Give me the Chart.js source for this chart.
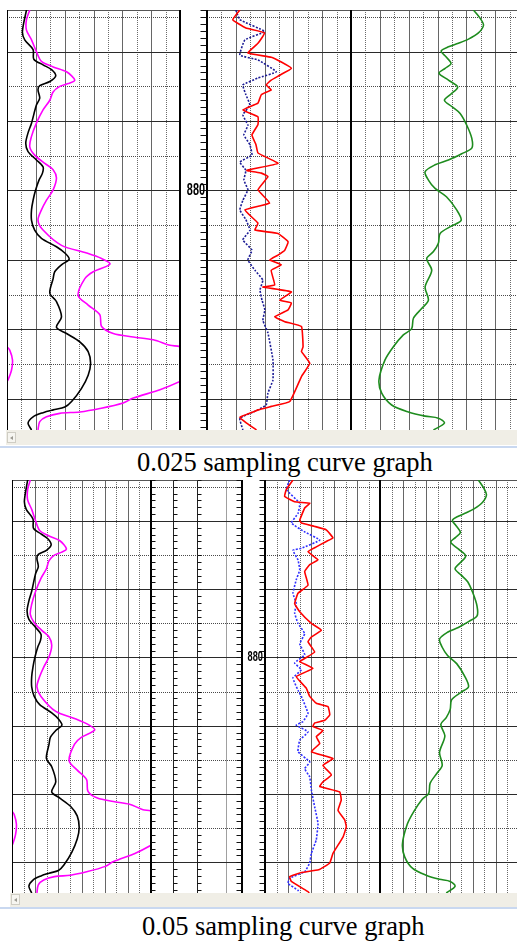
<!DOCTYPE html>
<html><head><meta charset="utf-8">
<script src="https://cdn.jsdelivr.net/npm/chart.js@4/dist/chart.umd.min.js"></script>
<style>
html,body{margin:0;padding:0;background:#fff;}
body{width:517px;height:941px;position:relative;overflow:hidden;}
.trk{position:absolute;}
.trk canvas{display:block;}
.strip{position:absolute;background:#f0eee6;}
.btn{position:absolute;width:9px;height:11px;border:1px solid #cfcdc4;background:#f6f5f0;box-sizing:border-box;}
.btn:after{content:"";position:absolute;left:2px;top:3px;border-style:solid;border-width:2.5px 3px 2.5px 0;border-color:transparent #9a9890 transparent transparent;}
.blue{position:absolute;background:#c9d8f0;}
.cap{position:absolute;font-family:"Liberation Serif","Times New Roman",serif;font-size:26.5px;line-height:26.5px;white-space:nowrap;color:#000;}
</style></head><body>
<div class="strip" style="left:6px;top:430px;width:511px;height:15px"></div>
<div class="btn" style="left:7px;top:432px"></div>
<div class="blue" style="left:0;top:446px;width:517px;height:2px"></div>
<div class="cap" style="left:137px;top:449px">0.025 sampling curve graph</div>
<div class="strip" style="left:10px;top:893px;width:507px;height:14px"></div>
<div class="btn" style="left:11px;top:894px"></div>
<div class="blue" style="left:0;top:907px;width:517px;height:2px"></div>
<div class="cap" style="left:142px;top:913px">0.05 sampling curve graph</div>
<script>
// ---------------- data ----------------
const depthMin = 877.4, depthMax = 883.45;
const depthLabels = [880];
const blankTrackLines = [0, 24.5, 50.2, 82.4, 100];

// track 1 (both panels)
const blackDepth = [877.40,877.71,877.83,877.97,878.11,878.19,878.26,878.35,878.43,878.49,878.55,878.67,878.77,879.03,879.17,879.32,879.44,879.56,879.66,879.75,879.85,879.99,880.14,880.28,880.43,880.57,880.69,880.81,880.90,880.99,881.07,881.17,881.27,881.48,881.60,881.82,881.97,882.06,882.18,882.32,882.49,882.66,882.85,883.04,883.12,883.16,883.20,883.26,883.35,883.45];
const blackValue = [13.5,10.7,12.3,18.1,18.6,25.0,30.9,33.8,29.7,22.7,21.5,22.7,20.4,17.0,14.6,13.0,14.6,20.4,25.0,24.6,22.2,19.9,18.1,17.0,17.0,19.2,23.9,34.3,40.1,43.1,37.8,33.1,32.0,29.7,34.3,37.8,34.3,41.3,50.5,56.3,58.0,56.3,51.7,44.8,40.1,32.0,25.0,18.1,14.6,17.0];

const magentaDepth = [877.40,877.54,877.69,877.83,878.00,878.14,878.22,878.29,878.41,878.46,878.50,878.58,878.70,878.84,879.03,879.22,879.37,879.49,879.61,879.70,879.82,879.99,880.14,880.28,880.43,880.57,880.79,880.90,880.98,881.06,881.17,881.27,881.51,881.65,881.79,881.96,882.06,882.11,882.15,882.23,882.25,882.30,882.44,882.59,882.73,882.75,882.87,882.99,883.06,883.14,883.19,883.21,883.26,883.33,883.45];
const magentaValue = [15.8,13.5,13.5,17.0,20.4,23.9,32.0,41.3,47.0,42.4,36.6,32.0,29.7,25.0,20.4,17.0,15.8,19.2,26.2,32.0,34.3,32.0,27.4,23.9,21.5,25.0,37.8,55.2,65.6,71.4,59.8,54.0,49.3,56.3,64.4,65.6,73.7,87.6,101.5,113.1,120.0,121.9,123.8,123.1,120.7,120.0,106.1,87.6,80.6,64.4,50.5,36.6,27.4,22.7,21.5];

// track 2, 0.025 sampling
const redDepthTop = [877.40,877.54,877.66,877.73,877.88,878.02,878.08,878.15,878.24,878.34,878.41,878.48,878.55,878.62,878.74,878.84,878.94,879.05,879.20,879.34,879.46,879.61,879.71,879.75,879.80,879.99,880.18,880.28,880.47,880.57,880.62,880.74,880.86,880.93,881.00,881.07,881.15,881.36,881.39,881.46,881.58,881.62,881.72,881.82,881.89,881.96,882.25,882.32,882.49,882.68,883.04,883.11,883.16,883.19,883.27,883.35,883.45];
const redValueTop = [22.8,17.9,27.0,40.0,35.4,28.4,44.6,51.6,58.6,50.5,44.6,41.1,44.6,37.7,35.4,24.9,35.4,35.4,31.2,34.0,35.4,49.3,27.7,37.7,42.3,35.4,43.5,26.3,35.4,33.3,49.3,56.3,54.0,49.3,43.5,51.6,44.6,47.0,38.8,58.6,50.5,58.6,56.3,47.0,54.0,65.6,66.7,65.6,71.4,65.6,57.5,44.6,35.4,32.1,22.8,27.5,34.4];
const blueDepthTop = [877.40,877.54,877.71,877.83,878.05,878.12,878.29,878.38,878.48,878.62,878.77,878.91,879.06,879.20,879.34,879.49,879.59,879.71,879.85,879.99,880.14,880.28,880.42,880.57,880.71,880.86,881.00,881.15,881.29,881.43,881.58,881.72,881.87,882.05,882.44,882.73,882.92,883.09,883.16,883.28,883.45];
const blueValueTop = [20.0,22.8,40.0,26.3,22.8,35.4,48.1,35.4,24.9,27.0,29.8,24.9,28.4,25.6,29.8,31.2,22.8,27.0,25.6,28.4,24.9,22.8,27.0,29.8,24.9,31.2,28.4,33.3,38.8,36.8,38.2,40.2,38.8,42.3,45.8,45.8,42.3,41.1,35.4,22.8,24.9];

// track 2, 0.05 sampling
const redDepthBottom = [877.40,877.54,877.64,877.72,877.74,877.81,877.99,878.03,878.08,878.13,878.25,878.30,878.38,878.45,878.57,878.64,878.74,878.94,879.06,879.21,879.33,879.50,879.60,879.70,879.77,879.92,880.00,880.06,880.16,880.28,880.45,880.57,880.67,880.72,880.84,880.92,880.96,881.01,881.07,881.16,881.26,881.38,881.48,881.58,881.72,881.82,881.89,881.97,882.09,882.24,882.38,882.48,882.63,882.87,883.01,883.11,883.15,883.21,883.28,883.43,883.45];
const redValueBottom = [24.3,18.5,17.1,25.8,38.9,34.5,30.2,31.6,43.2,53.3,59.1,53.3,44.6,37.4,46.1,38.9,34.5,37.4,28.7,25.8,30.2,40.3,49.0,40.3,37.4,43.2,35.9,30.2,41.7,27.2,35.9,38.9,44.6,54.8,56.3,51.9,43.2,41.7,50.4,44.6,47.6,40.3,59.1,50.4,57.7,50.4,47.6,65.0,66.3,63.5,69.3,70.7,67.8,59.1,56.3,46.7,31.6,21.5,22.9,37.4,38.5];
const blueDepthBottom = [877.40,877.54,877.74,877.89,878.03,878.16,878.28,878.40,878.43,878.57,878.72,878.86,879.06,879.21,879.35,879.50,879.65,879.80,879.96,880.08,880.18,880.30,880.48,880.57,880.82,880.94,880.99,881.09,881.21,881.38,881.53,881.63,881.75,881.94,882.19,882.43,882.67,882.87,883.01,883.14,883.23,883.31,883.41,883.45];
const blueValueBottom = [21.5,18.5,30.2,28.7,22.9,34.5,47.6,31.6,24.3,28.7,30.2,27.2,24.3,27.2,25.8,28.7,34.5,30.2,34.5,25.8,31.6,24.3,28.7,31.6,37.4,33.0,27.2,37.4,30.2,28.7,38.9,34.5,38.9,40.3,43.2,46.1,44.6,40.3,38.9,34.5,21.5,20.0,28.7,30.0];

// track 3 (both panels)
const greenDepth = [877.40,877.52,877.62,877.73,877.82,877.88,877.93,877.99,878.07,878.17,878.24,878.31,878.41,878.51,878.61,878.70,878.79,878.89,879.06,879.25,879.39,879.47,879.56,879.63,879.73,879.85,879.97,880.09,880.28,880.43,880.51,880.62,880.76,880.88,880.98,881.15,881.39,881.58,881.70,881.84,881.99,882.08,882.25,882.44,882.73,882.92,883.09,883.19,883.25,883.28,883.35,883.45];
const greenValue = [84.9,89.6,91.9,88.4,81.5,74.5,67.6,62.5,65.7,69.4,65.3,61.1,67.6,74.0,69.4,64.8,69.9,75.7,80.3,83.8,83.8,76.8,67.6,58.3,51.4,53.7,58.3,66.2,73.3,76.4,69.9,61.8,60.6,57.2,52.5,56.0,51.4,53.7,49.0,43.3,42.1,36.3,29.4,23.6,19.4,21.3,28.2,39.8,51.4,60.6,64.8,57.2];

// ---------------- helpers ----------------
function pts(depths, values) {
  return depths.map((d, i) => ({x: values[i], y: d}));
}
// wrap-around copy: values beyond the track maximum re-enter from the left edge
function wrapPts(depths, values, max) {
  return depths.map((d, i) => {
    const over = values[i] > max || (i > 0 && values[i-1] > max) || (i < values.length-1 && values[i+1] > max);
    return over ? {x: values[i] - max, y: d} : {x: null, y: d};
  });
}
function line(data, color, width, dash, tension) {
  return {data, borderColor: color, borderWidth: width, borderDash: dash || [], showLine: true,
          pointRadius: 0, tension: tension == null ? 0.3 : tension, spanGaps: false, fill: false};
}

const STYLE = {
  major:  {c:'#666', w:1, d:[]},
  minor:  {c:'#6a6a6a', w:1, d:[1,1]},
  dark:   {c:'#222', w:1, d:[]},
  light:  {c:'#a0a0a0', w:1, d:[]}
};

const wellGrid = {
  id: 'wellGrid',
  beforeDatasetsDraw(chart, args, o) {
    const {ctx, chartArea: a} = chart;
    const x = chart.scales.x, y = chart.scales.y;
    const W = chart.width;
    ctx.save();
    (o.vlines || []).forEach(l => {
      if (l.kind === 'border') return;
      const s = STYLE[l.kind];
      let px = Math.round(x.getPixelForValue(l.v));
      px = Math.min(Math.max(px, 0), W - 1) + 0.5;
      ctx.beginPath(); ctx.setLineDash(s.d); ctx.strokeStyle = s.c; ctx.lineWidth = s.w;
      ctx.moveTo(px, a.top); ctx.lineTo(px, a.bottom); ctx.stroke();
    });
    if (o.hlines) {
      for (let k = Math.ceil(y.min * 2); k <= Math.floor(y.max * 2); k++) {
        const py = Math.round(y.getPixelForValue(k / 2)) + 0.5;
        const major = k % 2 === 0;
        ctx.beginPath();
        ctx.setLineDash(major ? [] : [1, 1]);
        ctx.strokeStyle = major ? '#2a2a2a' : '#4a4a4a';
        ctx.lineWidth = 1;
        ctx.moveTo(a.left, py); ctx.lineTo(a.right, py); ctx.stroke();
      }
    }
    if (o.topBorder) {
      ctx.setLineDash([]); ctx.strokeStyle = '#555'; ctx.lineWidth = 1;
      ctx.beginPath(); ctx.moveTo(a.left, a.top + 0.5); ctx.lineTo(a.right, a.top + 0.5); ctx.stroke();
    }
    ctx.restore();
  },
  afterDatasetsDraw(chart, args, o) {
    const {ctx, chartArea: a} = chart;
    const x = chart.scales.x, y = chart.scales.y;
    const W = chart.width;
    ctx.save();
    ctx.setLineDash([]);
    (o.vlines || []).forEach(l => {
      if (l.kind !== 'border') return;
      let px = Math.round(x.getPixelForValue(l.v));
      px = Math.min(Math.max(px, 0), W - 1) + 0.5;
      ctx.beginPath(); ctx.strokeStyle = '#000'; ctx.lineWidth = 1;
      ctx.moveTo(px, a.top); ctx.lineTo(px, a.bottom); ctx.stroke();
    });
    (o.ticks || []).forEach(t => {
      let px = Math.round(x.getPixelForValue(t.v));
      px = Math.min(Math.max(px, 0), W - 1) + 0.5;
      ctx.beginPath(); ctx.strokeStyle = '#111'; ctx.lineWidth = 1;
      for (let k = Math.ceil(y.min * 10); k <= Math.floor(y.max * 10); k++) {
        const py = Math.round(y.getPixelForValue(k / 10)) + 0.5;
        ctx.moveTo(px, py); ctx.lineTo(px + t.dir * t.len, py);
      }
      ctx.stroke();
    });
    if (o.label) {
      depthLabels.forEach(d => {
        const py = y.getPixelForValue(d);
        ctx.save();
        ctx.translate(o.label.right, py);
        ctx.scale(o.label.sx, 1);
        ctx.fillStyle = '#000';
        ctx.font = 'bold ' + o.label.size + 'px "Liberation Sans", Arial, sans-serif';
        ctx.textAlign = 'right'; ctx.textBaseline = 'middle';
        ctx.fillText(String(d), 0, 0);
        ctx.restore();
      });
    }
    ctx.restore();
  }
};

function regularLines(max) {
  const out = [];
  for (let v = 0; v <= max; v += 10) {
    out.push({v, kind: (v === 0 || v === max) ? 'border' : (v % 20 === 0 ? 'major' : 'minor')});
  }
  return out;
}

function makeTrack(t, top, height) {
  const div = document.createElement('div');
  div.className = 'trk';
  div.style.left = t.left + 'px'; div.style.top = top + 'px';
  div.style.width = t.width + 'px'; div.style.height = height + 'px';
  const cv = document.createElement('canvas');
  cv.width = t.width; cv.height = height;
  cv.style.width = t.width + 'px'; cv.style.height = height + 'px';
  div.appendChild(cv);
  document.body.appendChild(div);
  new Chart(cv.getContext('2d'), {
    type: 'scatter',
    data: {datasets: t.datasets || []},
    options: {
      responsive: false, animation: false, events: [],
      devicePixelRatio: 1,
      layout: {padding: 0},
      plugins: {legend: {display: false}, tooltip: {enabled: false}, wellGrid: t.grid},
      scales: {
        x: {type: 'linear', min: 0, max: t.xMax || 100, display: false},
        y: {type: 'linear', min: depthMin, max: depthMax, reverse: true, display: false}
      }
    },
    plugins: [wellGrid]
  });
}

function curveTracks(p) {
  return [
    {left: p.t1[0], width: p.t1[1], xMax: 120,
     datasets: [
       line(pts(blackDepth, blackValue), '#000', 1.6),
       line(pts(magentaDepth, magentaValue), '#ff00ff', 1.6),
       line(wrapPts(magentaDepth, magentaValue, 120), '#ff00ff', 1.6)
     ],
     grid: {vlines: regularLines(120), hlines: true, topBorder: true}},
    {left: p.t2[0], width: p.t2[1], xMax: 100,
     datasets: [
       line(pts(p.red[0], p.red[1]), '#ff0000', 1.6, [], 0.1),
       line(pts(p.blueData[0], p.blueData[1]), p.blue, 1.6, [2, 1.5], 0.1)
     ],
     grid: {vlines: regularLines(100), hlines: true, topBorder: true}},
    {left: p.t3[0], width: p.t3[1], xMax: 120,
     datasets: [line(pts(greenDepth, greenValue), '#1e8c1e', 1.6)],
     grid: {vlines: regularLines(120), hlines: true, topBorder: true}}
  ];
}

// top panel (0.025 sampling)
(function () {
  const top = 10, h = 420;
  const tr = curveTracks({t1: [7, 173], t2: [207, 144], t3: [351, 173], blue: '#1c1c96',
                          red: [redDepthTop, redValueTop], blueData: [blueDepthTop, blueValueTop]});
  tr.splice(1, 0, {left: 180, width: 27, xMax: 100,
    grid: {vlines: [{v: 0, kind: 'border'}, {v: 100, kind: 'border'}],
           ticks: [{v: 100, dir: -1, len: 6}], label: {right: 25, sx: 0.68, size: 16}}});
  tr.forEach(t => makeTrack(t, top, h));
})();

// bottom panel (0.05 sampling)
(function () {
  const top = 480, h = 413;
  const tr = curveTracks({t1: [12, 139], t2: [265, 115], t3: [380, 139], blue: '#3030ff',
                          red: [redDepthBottom, redValueBottom], blueData: [blueDepthBottom, blueValueBottom]});
  const blank = {left: 151, width: 91, xMax: 100,
    grid: {vlines: blankTrackLines.map((v, i) => ({v, kind: (i === 0 || i === blankTrackLines.length - 1) ? 'border' : (i === 3 ? 'light' : 'dark')})),
           hlines: true, topBorder: true,
           ticks: [{v: blankTrackLines[0], dir: 1, len: 4}, {v: blankTrackLines[1], dir: 1, len: 4},
                   {v: blankTrackLines[2], dir: 1, len: 4}, {v: blankTrackLines[4], dir: -1, len: 5}]}};
  const depth = {left: 242, width: 23, xMax: 100,
    grid: {vlines: [{v: 0, kind: 'border'}, {v: 100, kind: 'border'}],
           ticks: [{v: 100, dir: -1, len: 5}], label: {right: 21, sx: 0.66, size: 14}}};
  tr.splice(1, 0, blank, depth);
  tr.forEach(t => makeTrack(t, top, h));
})();
</script>
</body></html>
